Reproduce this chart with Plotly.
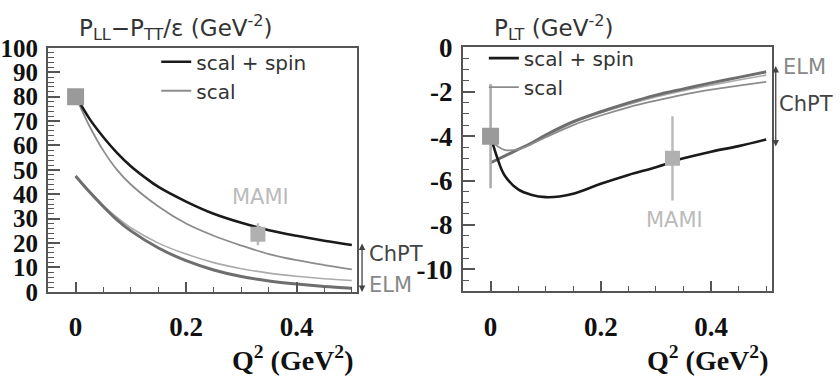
import plotly.graph_objects as go

# ---------------- data ----------------
# Left panel: P_LL - P_TT/eps
L_chpt_full_x = [0, 0.025, 0.05, 0.075, 0.1, 0.125, 0.15, 0.2, 0.25, 0.3, 0.35, 0.4, 0.45, 0.5]
L_chpt_full_y = [80.5, 71, 63.5, 57, 51.5, 47, 43, 37, 32, 28.3, 25.3, 23, 21, 19.2]
L_chpt_scal_x = [0, 0.025, 0.05, 0.075, 0.1, 0.15, 0.2, 0.25, 0.3, 0.35, 0.4, 0.45, 0.5]
L_chpt_scal_y = [80, 68, 58, 50, 44, 35, 28, 23, 19, 15.5, 13, 11, 9.2]
L_elm_full_x = [0, 0.025, 0.05, 0.075, 0.1, 0.15, 0.2, 0.25, 0.3, 0.35, 0.4, 0.45, 0.5]
L_elm_full_y = [47.5, 41, 35, 29.5, 25, 18, 12.8, 9, 6.3, 4.5, 3.2, 2.2, 1.5]
L_elm_scal_x = [0, 0.025, 0.05, 0.075, 0.1, 0.15, 0.2, 0.25, 0.3, 0.35, 0.4, 0.45, 0.5]
L_elm_scal_y = [47.5, 41.3, 35.5, 30.5, 26.3, 20, 15.5, 12, 9.5, 7.7, 6.4, 5.4, 4.7]
L_rcs_x, L_rcs_y, L_rcs_err = [0], [80], [3]
L_mami_x, L_mami_y, L_mami_err = [0.33], [23.6], [4.5]

# Right panel: P_LT
R_chpt_full_x = [0, 0.0125, 0.025, 0.05, 0.075, 0.1, 0.125, 0.15, 0.2, 0.25, 0.3, 0.35, 0.4, 0.45, 0.5]
R_chpt_full_y = [-4.0, -5.0, -5.75, -6.4, -6.65, -6.75, -6.72, -6.6, -6.15, -5.75, -5.4, -5.0, -4.7, -4.45, -4.15]
R_chpt_scal_x = [0, 0.0125, 0.025, 0.05, 0.075, 0.1, 0.15, 0.2, 0.25, 0.3, 0.35, 0.4, 0.45, 0.5]
R_chpt_scal_y = [-4.1, -4.45, -4.62, -4.6, -4.35, -4.05, -3.5, -3.07, -2.7, -2.4, -2.13, -1.9, -1.72, -1.55]
R_elm_full_x = [0, 0.025, 0.05, 0.075, 0.1, 0.15, 0.2, 0.25, 0.3, 0.35, 0.4, 0.45, 0.5]
R_elm_full_y = [-5.2, -4.9, -4.6, -4.3, -3.95, -3.35, -2.9, -2.5, -2.15, -1.87, -1.6, -1.35, -1.1]
R_elm_scal_x = [0, 0.025, 0.05, 0.075, 0.1, 0.15, 0.2, 0.25, 0.3, 0.35, 0.4, 0.45, 0.5]
R_elm_scal_y = [-5.2, -4.9, -4.6, -4.3, -4.0, -3.4, -2.95, -2.57, -2.23, -1.95, -1.7, -1.47, -1.25]
R_rcs_x, R_rcs_y, R_rcs_err = [0], [-4.0], [2.35]
R_mami_x, R_mami_y, R_mami_err = [0.33], [-5.0], [1.9]

L_yticks = [0, 10, 20, 30, 40, 50, 60, 70, 80, 90, 100]
R_yticks = [-10, -8, -6, -4, -2, 0]
R_yticktext = ["-10", "-8", "-6", "-4", "-2", "0"]
x_ticks = [0, 0.2, 0.4]
x_ticktext = ["0", "0.2", "0.4"]

# ---------------- styles ----------------
SANS = "DejaVu Sans"
SERIF = "Liberation Serif"
BLACK = "#1a1a1a"
CHPT_SCAL = "#8c8c8c"
ELM_FULL = "#6e6e6e"
ELM_SCAL = "#ababab"

fig = go.Figure()


def add_panel(xa, ya, leg, cf, cs, ef, es, p0, p1):
    fig.add_trace(go.Scatter(x=es[0], y=es[1], mode="lines", line=dict(color=ELM_SCAL, width=1.6, shape="spline"),
                             xaxis=xa, yaxis=ya, showlegend=False))
    fig.add_trace(go.Scatter(x=ef[0], y=ef[1], mode="lines", line=dict(color=ELM_FULL, width=3, shape="spline"),
                             xaxis=xa, yaxis=ya, showlegend=False))
    fig.add_trace(go.Scatter(x=cs[0], y=cs[1], mode="lines", name="scal",
                             line=dict(color=CHPT_SCAL, width=1.8, shape="spline"),
                             xaxis=xa, yaxis=ya, legend=leg, legendrank=2))
    fig.add_trace(go.Scatter(x=cf[0], y=cf[1], mode="lines", name="scal + spin",
                             line=dict(color=BLACK, width=2.6, shape="spline"),
                             xaxis=xa, yaxis=ya, legend=leg, legendrank=1))
    fig.add_trace(go.Scatter(x=p0[0], y=p0[1], mode="markers",
                             marker=dict(symbol="square", size=17, color="#9a9a9a"),
                             error_y=dict(type="data", array=p0[2], color="#aaaaaa", thickness=2.5, width=0),
                             xaxis=xa, yaxis=ya, showlegend=False))
    fig.add_trace(go.Scatter(x=p1[0], y=p1[1], mode="markers",
                             marker=dict(symbol="square", size=15, color="#b0b0b0"),
                             error_y=dict(type="data", array=p1[2], color="#bbbbbb", thickness=2.5, width=0),
                             xaxis=xa, yaxis=ya, showlegend=False))


add_panel("x", "y", "legend",
          (L_chpt_full_x, L_chpt_full_y), (L_chpt_scal_x, L_chpt_scal_y),
          (L_elm_full_x, L_elm_full_y), (L_elm_scal_x, L_elm_scal_y),
          (L_rcs_x, L_rcs_y, L_rcs_err), (L_mami_x, L_mami_y, L_mami_err))
add_panel("x2", "y2", "legend2",
          (R_chpt_full_x, R_chpt_full_y), (R_chpt_scal_x, R_chpt_scal_y),
          (R_elm_full_x, R_elm_full_y), (R_elm_scal_x, R_elm_scal_y),
          (R_rcs_x, R_rcs_y, R_rcs_err), (R_mami_x, R_mami_y, R_mami_err))

axis_common = dict(showline=True, mirror=True, linecolor="#555555", linewidth=2,
                   ticks="inside", tickcolor="#555555", tickwidth=1.5,
                   showgrid=False, zeroline=False,
                   tickfont=dict(family=SERIF, size=27, color="#111111", weight="bold"))

xcommon = dict(axis_common, range=[-0.05, 0.51], tickmode="array", tickvals=x_ticks, ticktext=x_ticktext,
               ticklen=10, ticklabelstandoff=10,
               minor=dict(ticks="inside", tickmode="linear", tick0=0, dtick=0.05, ticklen=5,
                          tickcolor="#555555", tickwidth=1.2))

fig.update_layout(
    width=840, height=392, margin=dict(l=0, r=0, t=0, b=0),
    paper_bgcolor="white", plot_bgcolor="white",
    xaxis=dict(xcommon, domain=[0.0571, 0.4254], anchor="y"),
    yaxis=dict(axis_common, domain=[0.2372, 0.9094], anchor="x", range=[0, 100],
               tickfont=dict(family=SERIF, size=25, color="#111111", weight="bold"),
               tickmode="array", tickvals=L_yticks, ticklen=12, ticklabelstandoff=3,
               minor=dict(ticks="inside", tickmode="linear", tick0=0, dtick=2, ticklen=6,
                          tickcolor="#555555", tickwidth=1.2)),
    xaxis2=dict(xcommon, domain=[0.5512, 0.9187], anchor="y2"),
    yaxis2=dict(axis_common, domain=[0.2385, 0.9107], anchor="x2", range=[-11, 0],
                tickmode="array", tickvals=R_yticks, ticktext=R_yticktext, ticklen=12, ticklabelstandoff=3,
                minor=dict(ticks="inside", tickmode="linear", tick0=0, dtick=0.5, ticklen=6,
                           tickcolor="#555555", tickwidth=1.2)),
    legend=dict(x=0.186, y=0.925, xanchor="left", yanchor="top", bgcolor="rgba(0,0,0,0)",
                font=dict(family=SANS, size=20, color="#333333"), tracegroupgap=0),
    legend2=dict(x=0.576, y=0.935, xanchor="left", yanchor="top", bgcolor="rgba(0,0,0,0)",
                 font=dict(family=SANS, size=20, color="#333333"), tracegroupgap=0),
    showlegend=True,
)

ann = []
# panel titles
ann.append(dict(text="P<sub>LL</sub>−P<sub>TT</sub>/ε (GeV<sup>-2</sup>)", xref="paper", yref="paper",
                x=0.0917, y=0.965, xanchor="left", yanchor="middle", showarrow=False,
                font=dict(family=SANS, size=23, color="#333333")))
ann.append(dict(text="P<sub>LT</sub> (GeV<sup>-2</sup>)", xref="paper", yref="paper",
                x=0.5857, y=0.965, xanchor="left", yanchor="middle", showarrow=False,
                font=dict(family=SANS, size=23, color="#333333")))
# x-axis titles
for xr in (0.4226, 0.9167):
    ann.append(dict(text="Q<sup>2</sup> (GeV<sup>2</sup>)", xref="paper", yref="paper",
                    x=xr, y=0.055, xanchor="right", yanchor="middle", showarrow=False,
                    font=dict(family=SERIF, size=28, color="#111111", weight="bold")))
# MAMI labels
ann.append(dict(text="MAMI", xref="x", yref="y", x=0.335, y=38.8, showarrow=False,
                font=dict(family=SANS, size=21, color="#bbbbbb")))
ann.append(dict(text="MAMI", xref="x2", yref="y2", x=0.333, y=-7.78, showarrow=False,
                font=dict(family=SANS, size=21, color="#bbbbbb")))
# model band labels and double arrows (outside the frames -> paper coordinates)
ann.append(dict(text="ChPT", xref="paper", yref="paper", x=0.437, y=0.342, xanchor="left", yanchor="middle",
                showarrow=False, font=dict(family=SANS, size=21, color="#444444")))
ann.append(dict(text="ELM", xref="paper", yref="paper", x=0.437, y=0.255, xanchor="left", yanchor="middle",
                showarrow=False, font=dict(family=SANS, size=21, color="#888888")))
ann.append(dict(text="", xref="paper", yref="paper", axref="pixel", ayref="pixel", x=0.431, y=0.3707, ax=0, ay=50,
                showarrow=True, arrowhead=2, arrowside="end+start", arrowsize=1, arrowwidth=1.3,
                arrowcolor="#444444"))
ann.append(dict(text="ELM", xref="paper", yref="paper", x=0.9295, y=0.856, xanchor="left", yanchor="middle",
                showarrow=False, font=dict(family=SANS, size=21, color="#888888")))
ann.append(dict(text="ChPT", xref="paper", yref="paper", x=0.9255, y=0.755, xanchor="left", yanchor="middle",
                showarrow=False, font=dict(family=SANS, size=21, color="#444444")))
ann.append(dict(text="", xref="paper", yref="paper", axref="pixel", ayref="pixel", x=0.9235, y=0.8597, ax=0, ay=82,
                showarrow=True, arrowhead=2, arrowside="end+start", arrowsize=1, arrowwidth=1.3,
                arrowcolor="#444444"))
fig.update_layout(annotations=ann)

fig.write_html("out.html")
